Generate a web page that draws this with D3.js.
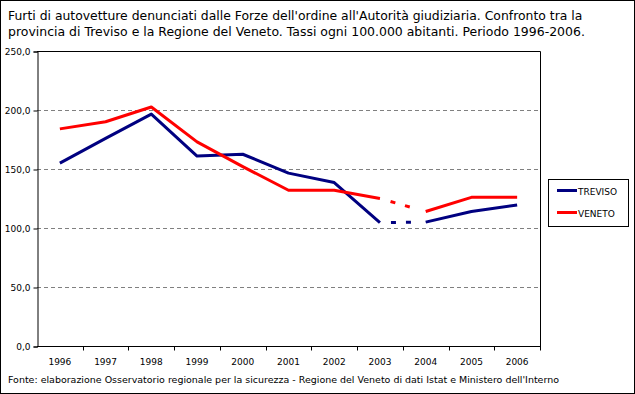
<!DOCTYPE html>
<html>
<head>
<meta charset="utf-8">
<script src="https://cdn.jsdelivr.net/npm/d3@7"></script>
<style>
  body { margin: 0; background: #fff; }
  svg { display: block; }
  text { font-family: "DejaVu Sans", Verdana, sans-serif; fill: #000; }
</style>
</head>
<body>
<div class="chart"></div>
<script>
// data
const years = ["1996", "1997", "1998", "1999", "2000", "2001", "2002", "2003", "2004", "2005", "2006"];
const treviso = [155, 176, 196.5, 161, 162.5, 146.5, 138.5, 104.5, 105, 114, 119.5];
const veneto = [184, 190, 202.5, 173, 152, 132, 132, 125, 114, 126, 126];
const yTicks = [0, 50, 100, 150, 200, 250];
const dashedFrom = 7; // 2003 -> 2004 drawn dashed

const titleLines = [
    "Furti di autovetture denunciati dalle Forze dell'ordine all'Autorità giudiziaria. Confronto tra la",
    "provincia di Treviso e la Regione del Veneto. Tassi ogni 100.000 abitanti. Periodo 1996-2006."
];
const sourceText = "Fonte: elaborazione Osservatorio regionale per la sicurezza - Regione del Veneto di dati Istat e Ministero dell'Interno";

const series = [
    {name: "TREVISO", values: treviso, color: "#000080"},
    {name: "VENETO", values: veneto, color: "#ff0000"}
];

const W = 635, H = 394;
const plot = {left: 37, right: 540, top: 51, bottom: 346};

const svg = d3.select(".chart").append("svg")
    .attr("width", W)
    .attr("height", H);

// outer frame
svg.append("rect")
    .attr("x", 0.5).attr("y", 0.5)
    .attr("width", W - 1).attr("height", H - 1)
    .attr("fill", "#fff")
    .attr("stroke", "#000");

// fit a text to a given width by changing the font size
function fitText(sel, width) {
    const len = sel.node().getComputedTextLength();
    const fs = parseFloat(sel.attr("font-size"));
    sel.attr("font-size", fs * width / len);
}

// title
titleLines.forEach((t, i) => {
    const el = svg.append("text")
        .attr("x", 8)
        .attr("y", 20 + i * 16)
        .attr("font-size", 12)
        .text(t);
    fitText(el, i === 0 ? 575 : 577);
});

const x = d3.scaleBand()
    .domain(years)
    .range([plot.left, plot.right]);

const y = d3.scaleLinear()
    .domain([0, 250])
    .range([plot.bottom, plot.top]);

// grid lines
svg.append("g")
    .selectAll("line")
    .data(yTicks.filter(d => d > 0 && d < 250))
    .join("line")
    .attr("x1", plot.left)
    .attr("x2", plot.right)
    .attr("y1", d => Math.round(y(d)) + 0.5)
    .attr("y2", d => Math.round(y(d)) + 0.5)
    .attr("stroke", "#808080")
    .attr("stroke-dasharray", "4,3");

// plot area border (top and right)
svg.append("path")
    .attr("d", `M${plot.left},${plot.top + 0.5}H${plot.right + 0.5}V${plot.bottom}`)
    .attr("fill", "none")
    .attr("stroke", "#000");

// y axis
const yAxis = svg.append("g")
    .attr("transform", `translate(${plot.left + 0.5},0.5)`)
    .call(d3.axisLeft(y).tickValues(yTicks).tickSize(4).tickPadding(3)
        .tickFormat(d => d3.format(".1f")(d).replace(".", ",")));
yAxis.select(".domain").attr("stroke", "#000");
yAxis.selectAll("text").attr("font-size", 9).attr("font-family", "DejaVu Sans");

// x axis: ticks sit between categories
const xAxis = svg.append("g")
    .attr("transform", `translate(0,${plot.bottom + 0.5})`);
xAxis.append("line")
    .attr("x1", plot.left).attr("x2", plot.right + 1)
    .attr("stroke", "#000");
xAxis.selectAll(".tk")
    .data(years.slice(1).concat(["end"]))
    .join("line")
    .attr("class", "tk")
    .attr("x1", (d, i) => Math.round(plot.left + x.step() * (i + 1)) + 0.5)
    .attr("x2", (d, i) => Math.round(plot.left + x.step() * (i + 1)) + 0.5)
    .attr("y1", 0).attr("y2", 4)
    .attr("stroke", "#000");
xAxis.selectAll("text")
    .data(years)
    .join("text")
    .attr("x", d => x(d) + x.bandwidth() / 2)
    .attr("y", 18)
    .attr("text-anchor", "middle")
    .attr("font-size", 9)
    .text(d => d);

// lines
const cx = i => x(years[i]) + x.bandwidth() / 2;
const solid = d3.line()
    .defined(d => d.solid)
    .x(d => d.x)
    .y(d => d.y);

series.forEach(s => {
    // split into solid parts with the 2003-2004 segment left out
    const pts = s.values.map((v, i) => ({x: cx(i), y: y(v), solid: true}));
    const first = pts.slice(0, dashedFrom + 1);
    const second = pts.slice(dashedFrom + 1);
    [first, second].forEach(part => {
        svg.append("path")
            .datum(part)
            .attr("d", solid)
            .attr("fill", "none")
            .attr("stroke", s.color)
            .attr("stroke-width", 3)
            .attr("stroke-linejoin", "round");
    });
    svg.append("path")
        .datum([pts[dashedFrom], pts[dashedFrom + 1]])
        .attr("d", d3.line().x(d => d.x).y(d => d.y))
        .attr("fill", "none")
        .attr("stroke", s.color)
        .attr("stroke-width", 3)
        .attr("stroke-dasharray", "0,11,5,10,5,30");
});

// legend
const legend = svg.append("g");
legend.append("rect")
    .attr("x", 548.5).attr("y", 179.5)
    .attr("width", 80).attr("height", 47)
    .attr("fill", "#fff")
    .attr("stroke", "#000");
series.forEach((s, i) => {
    const ly = 190.5 + i * 22;
    legend.append("line")
        .attr("x1", 557).attr("x2", 577)
        .attr("y1", ly).attr("y2", ly)
        .attr("stroke", s.color)
        .attr("stroke-width", 3);
    legend.append("text")
        .attr("x", 578)
        .attr("y", ly + 4)
        .attr("font-size", 9)
        .text(s.name);
});

// source note
const src = svg.append("text")
    .attr("x", 8)
    .attr("y", 383)
    .attr("font-size", 9)
    .text(sourceText);
fitText(src, 552);
</script>
</body>
</html>
